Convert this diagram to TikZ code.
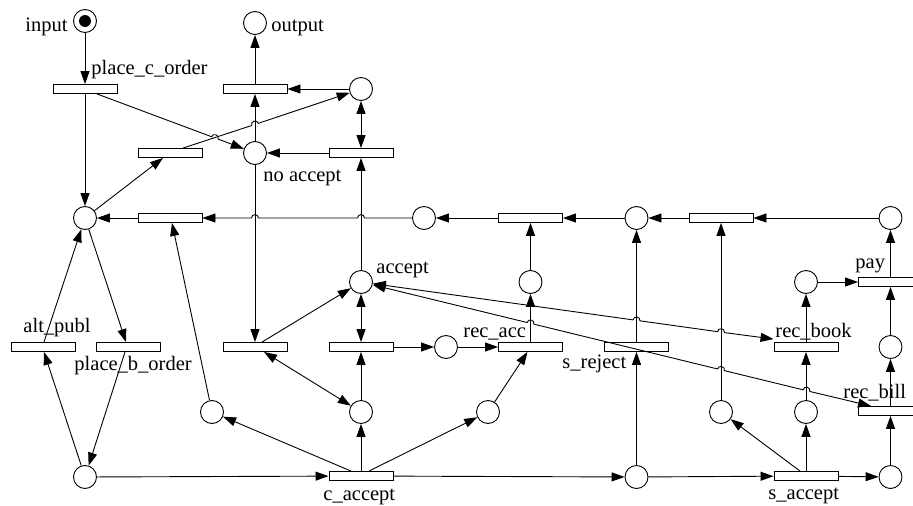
\documentclass[tikz,border=0pt]{standalone}
\usepackage{fontspec}
\setmainfont{Liberation Serif}
\usetikzlibrary{arrows.meta,calc}
\begin{document}
\begin{tikzpicture}[x=1pt,y=-1pt,line width=0.9pt,
  place/.style={circle,draw,fill=white,minimum size=23pt,inner sep=0pt},
  trans/.style={rectangle,draw,fill=white,minimum width=64pt,minimum height=9pt,inner sep=0pt},
  lbl/.style={inner sep=0pt,anchor=base west,font=\fontsize{20.5}{24}\selectfont},
  arr/.style={-{Triangle[length=13pt,width=9pt]}},
  darr/.style={{Triangle[length=13pt,width=9pt]}-{Triangle[length=13pt,width=9pt]}}]
\useasboundingbox (0,0) rectangle (913,506);
\clip (0,0) rectangle (913,506);
% places
\node[place] (pin) at (85,21) {};
\fill (pin) circle (6pt);
\node[place] (pout) at (255,23) {};
\node[place] (pc) at (361,89) {};
\node[place] (pna) at (255,153) {};
\node[place] (p1) at (85,218) {};
\node[place] (p2) at (424,218) {};
\node[place] (p3) at (636.5,218) {};
\node[place] (p4) at (890.5,218) {};
\node[place] (pacc) at (361,282) {};
\node[place] (p5) at (530.5,282) {};
\node[place] (p6) at (806,282) {};
\node[place] (p7) at (446,347) {};
\node[place] (p8) at (890.5,347) {};
\node[place] (p9) at (212,412) {};
\node[place] (p10) at (361,412) {};
\node[place] (p11) at (488,412) {};
\node[place] (p12) at (721,412) {};
\node[place] (p13) at (806,412) {};
\node[place] (p14) at (85,477) {};
\node[place] (p15) at (636.5,477) {};
\node[place] (p16) at (890.5,477) {};
% transitions
\node[trans] (tpco) at (85,89) {};
\node[trans] (tout) at (255,89) {};
\node[trans] (ta) at (170,153) {};
\node[trans] (tb) at (361,153) {};
\node[trans] (tc) at (170,218) {};
\node[trans] (td) at (530.5,218) {};
\node[trans] (te) at (721,218) {};
\node[trans] (talt) at (43,347) {};
\node[trans] (tpbo) at (128,347) {};
\node[trans] (tf) at (255,347) {};
\node[trans] (tg) at (361,347) {};
\node[trans] (trecacc) at (530.5,347) {};
\node[trans] (tsrej) at (636.5,347) {};
\node[trans] (trecbook) at (806,347) {};
\node[trans] (tpay) at (890.5,282) {};
\node[trans] (trecbill) at (890.5,411) {};
\node[trans] (tcacc) at (361,476) {};
\node[trans] (tsacc) at (806,476) {};
% labels
\node[lbl] (linput) at (25,31) {input};
\node[lbl] (loutput) at (271,31.5) {output};
\node[lbl] (lpco) at (91,74.5) {place\_c\_order};
\node[lbl] (lna) at (263,181) {no accept};
\node[lbl] (lacc) at (376,273) {accept};
\node[lbl] (lalt) at (23,332) {alt\_publ};
\node[lbl] (lpbo) at (74,370) {place\_b\_order};
\node[lbl] (lcacc) at (323,500) {c\_accept};
\node[lbl] (lrecacc) at (463,337) {rec\_acc};
\node[lbl] (lsrej) at (562,368) {s\_reject};
\node[lbl] (lrecbook) at (775,337) {rec\_book};
\node[lbl] (lpay) at (855,268) {pay};
\node[lbl] (lrecbill) at (843,398) {rec\_bill};
\node[lbl] (lsacc) at (768,499) {s\_accept};
% connectors
\draw[arr] (pin) -- (tpco);
\draw[arr] (tpco) -- (p1);
\draw[arr] ($(tpco.south)+(12,0)$) -- (211.5,136.7) .. controls (213.1,132.5) and (219.7,134.9) .. (218.1,139.1) -- (pna);
\draw[arr] ($(ta.north)+(13,0)$) -- (251.7,125.5) .. controls (250.3,121.2) and (256.9,119.0) .. (258.3,123.3) -- (pc);
\draw[arr] (p1) -- ($(ta.south)+(-7,0)$);
\draw[arr] (tb) -- (pna);
\draw[darr] (pc) -- (tb);
\draw[arr] (pc) -- (tout);
\draw[arr] (tout) -- (pout);
\draw[arr] (pna) -- (tout);
\draw[arr] (pna) -- (tf);
\draw[arr] (pacc) -- (tb);
\draw[arr] (p2) -- (364.5,218) .. controls (364.5,213.5) and (357.5,213.5) .. (357.5,218) -- (258.5,218) .. controls (258.5,213.5) and (251.5,213.5) .. (251.5,218) -- (tc);
\draw[arr] (tc) -- (p1);
\draw[arr] (td) -- (p2);
\draw[arr] (p3) -- (td);
\draw[arr] (te) -- (p3);
\draw[arr] (p4) -- (te);
\draw[arr] (p5) -- (td);
\draw[arr] (trecacc) -- (p5);
\draw[arr] (tsrej) -- (p3);
\draw[arr] (p15) -- (tsrej);
\draw[arr] (p12) -- (te);
\draw[arr] (tpay) -- (p4);
\draw[arr] (p7) -- (trecacc);
\draw[arr] (tg) -- (p7);
\draw[darr] (tg) -- (pacc);
\draw[arr] (tcacc) -- (p10);
\draw[arr] (p10) -- (tg);
\draw[arr] ($(tf.north)+(7,0)$) -- (pacc);
\draw[darr] ($(tf.south)+(9,0)$) -- (p10);
\draw[arr] ($(tcacc.north)+(-10,0)$) -- (p9);
\draw[arr] (p9) -- ($(tc.south)+(2,0)$);
\draw[arr] ($(tcacc.north)+(8,0)$) -- (p11);
\draw[arr] (p11) -- ($(trecacc.south)+(-3,0)$);
\draw[arr] (p1) -- ($(tpbo.north)+(-2,0)$);
\draw[arr] ($(tpbo.south)+(-3,0)$) -- (p14);
\draw[arr] (p14) -- ($(talt.south)+(1,0)$);
\draw[arr] ($(talt.north)+(1,0)$) -- (p1);
\draw[arr] (p14) -- (tcacc);
\draw[arr] (tcacc) -- (p15);
\draw[arr] (p15) -- (tsacc);
\draw[arr] (tsacc) -- (p16);
\draw[arr] ($(tsacc.north)+(-6,0)$) -- (p12);
\draw[arr] (tsacc) -- (p13);
\draw[arr] (p13) -- (trecbook);
\draw[arr] (trecbook) -- (p6);
\draw[arr] (p6) -- (tpay);
\draw[arr] (p8) -- (tpay);
\draw[arr] (trecbill) -- (p8);
\draw[arr] (p16) -- (trecbill);
\draw[darr] (pacc) -- (633.03,319.88) .. controls (633.65,315.42) and (640.59,316.38) .. (639.97,320.84)
  -- (717.53,331.64) .. controls (718.15,327.18) and (725.09,328.14) .. (724.47,332.60)
  -- ($(trecbook.north west)+(0,-3)$);
\draw[darr] (pacc) -- (527.10,322.51) .. controls (528.17,318.14) and (534.97,319.80) .. (533.90,324.17)
  -- (717.60,368.97) .. controls (718.67,364.60) and (725.47,366.26) .. (724.40,370.63)
  -- (803.10,389.82) .. controls (804.17,385.45) and (810.97,387.11) .. (809.90,391.48)
  -- ($(trecbill.north west)+(13,0)$);
\end{tikzpicture}
\end{document}
